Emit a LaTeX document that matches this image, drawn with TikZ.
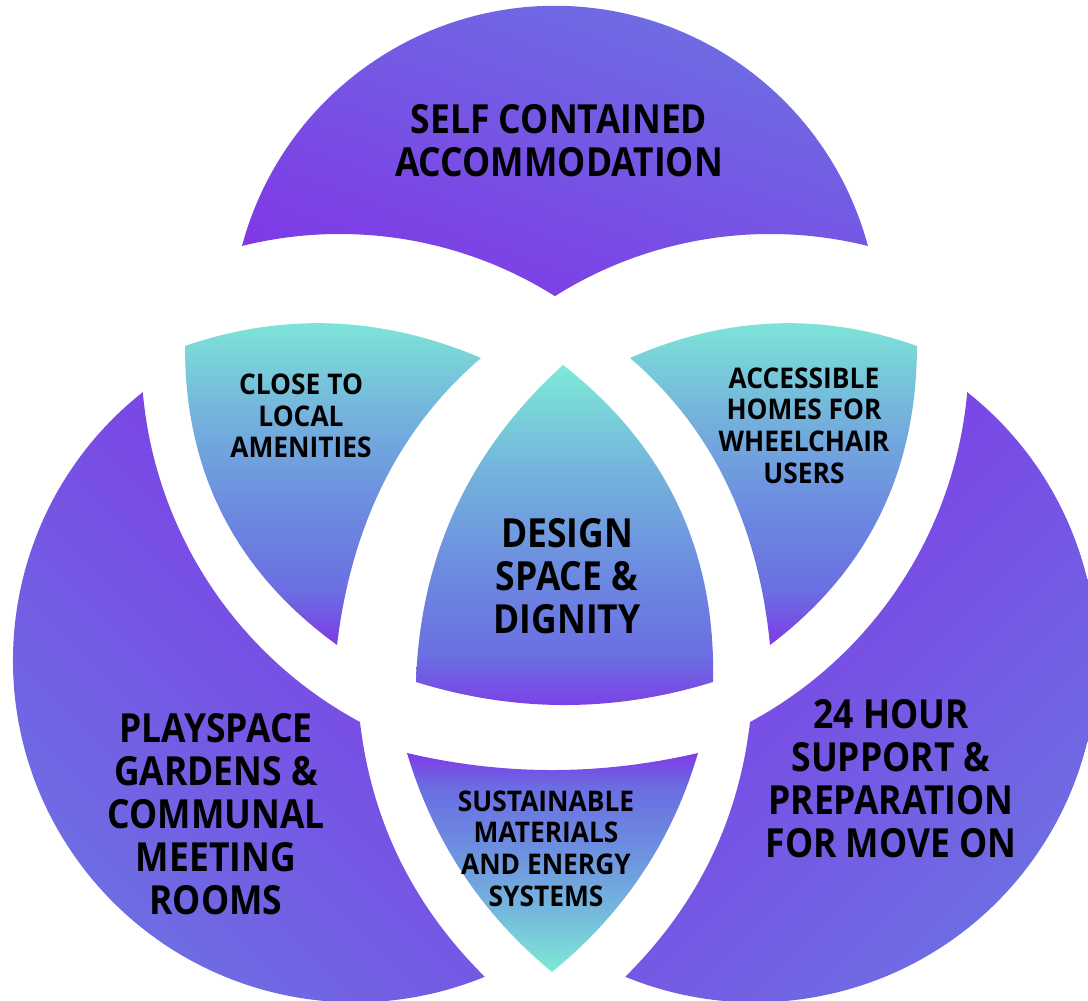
\documentclass[tikz,border=0pt]{standalone}
\usepackage{fontspec}
\setmainfont{Open Sans}
\newfontfamily\vennbig{Open Sans}[FakeStretch=0.885]
\newfontfamily\vennsmall{Open Sans}[FakeStretch=0.925]
\definecolor{vpurple}{HTML}{7F3AE6}
\definecolor{vperi}{HTML}{6B74E2}
\definecolor{vindigo}{HTML}{6B6EE2}
\definecolor{vblue}{HTML}{6C8AE0}
\definecolor{vsky}{HTML}{74B4DC}
\definecolor{vteal}{HTML}{7EEAD7}
\pgfdeclareverticalshading{tealfade}{100bp}{color(0bp)=(vpurple); color(25bp)=(vpurple); color(33bp)=(vindigo); color(45bp)=(vblue); color(60bp)=(vsky); color(75bp)=(vteal); color(100bp)=(vteal)}

\begin{document}
\begin{tikzpicture}[x=0.01cm, y=-0.01cm,
    outer/.style={top color=vperi, bottom color=vpurple},
    inner/.style={shading=tealfade},
    bigtext/.style={align=center, inner sep=0pt, font=\vennbig\bfseries\fontsize{11.4}{12.25}\selectfont},
    smalltext/.style={align=center, inner sep=0pt, font=\vennsmall\bfseries\fontsize{8.1}{9}\selectfont}]
  \useasboundingbox (0,0) rectangle (1088,1001);
  % outer parts
  \shade[outer, shading angle=-20] (242,246) arc[start angle=195, end angle=345, radius=324]
    arc[start angle=284, end angle=237.8, radius=404] arc[start angle=302.2, end angle=256, radius=404] -- cycle;
  \shade[outer, shading angle=135] (143,392) arc[start angle=231.7, end angle=67.7, radius=342]
    .. controls (412.8,905.3) and (371.5,821) .. (360,722) arc[start angle=118.3, end angle=175, radius=416] -- cycle;
  \shade[outer, shading angle=225] (967,392) arc[start angle=308.3, end angle=472.3, radius=342]
    .. controls (697.2,905.3) and (738.5,821) .. (750,722) arc[start angle=61.7, end angle=5, radius=416] -- cycle;
  % overlaps
  \shade[inner] (185,346) .. controls (283.7,312) and (382.3,316) .. (481,358)
    .. controls (399.7,427.7) and (351.7,523.3) .. (337,645)
    .. controls (235.3,571.3) and (184.6,471.7) .. (185,346) -- cycle;
  \shade[inner] (630,358) .. controls (725.7,316) and (821.3,312) .. (917,346)
    .. controls (916.7,471.7) and (867.7,571.3) .. (770,645)
    .. controls (758,523.3) and (711.3,427.7) .. (630,358) -- cycle;
  \shade[inner] (563,365) .. controls (469.2,449.9) and (420.2,555.5) .. (416,682)
    .. controls (515,712.7) and (614,712.7) .. (713,682)
    .. controls (716.1,551.3) and (666.1,445.6) .. (563,365) -- cycle;
  \shade[inner, shading angle=180] (407,753) .. controls (503.3,775.7) and (600.3,775.7) .. (698,753)
    .. controls (672.3,840.7) and (623.6,913.7) .. (552,972)
    .. controls (481.4,913.7) and (433.1,840.7) .. (407,753) -- cycle;
  % labels
  \node[bigtext] (selfcont) at (559,141) {SELF CONTAINED\\ACCOMMODATION};
  \node[smalltext] (amenities) at (301,416) {CLOSE TO\\LOCAL\\AMENITIES};
  \node[smalltext] (access) at (804,425.5) {ACCESSIBLE\\HOMES FOR\\WHEELCHAIR\\USERS};
  \node[bigtext] (design) at (567,576) {DESIGN\\SPACE \&\\DIGNITY};
  \node[bigtext] (playspace) at (216,814) {PLAYSPACE\\GARDENS \&\\COMMUNAL\\MEETING\\ROOMS};
  \node[bigtext] (support) at (891,778.5) {24 HOUR\\SUPPORT \&\\PREPARATION\\FOR MOVE ON};
  \node[smalltext] (sustain) at (546,848.5) {SUSTAINABLE\\MATERIALS\\AND ENERGY\\SYSTEMS};
\end{tikzpicture}
\end{document}
